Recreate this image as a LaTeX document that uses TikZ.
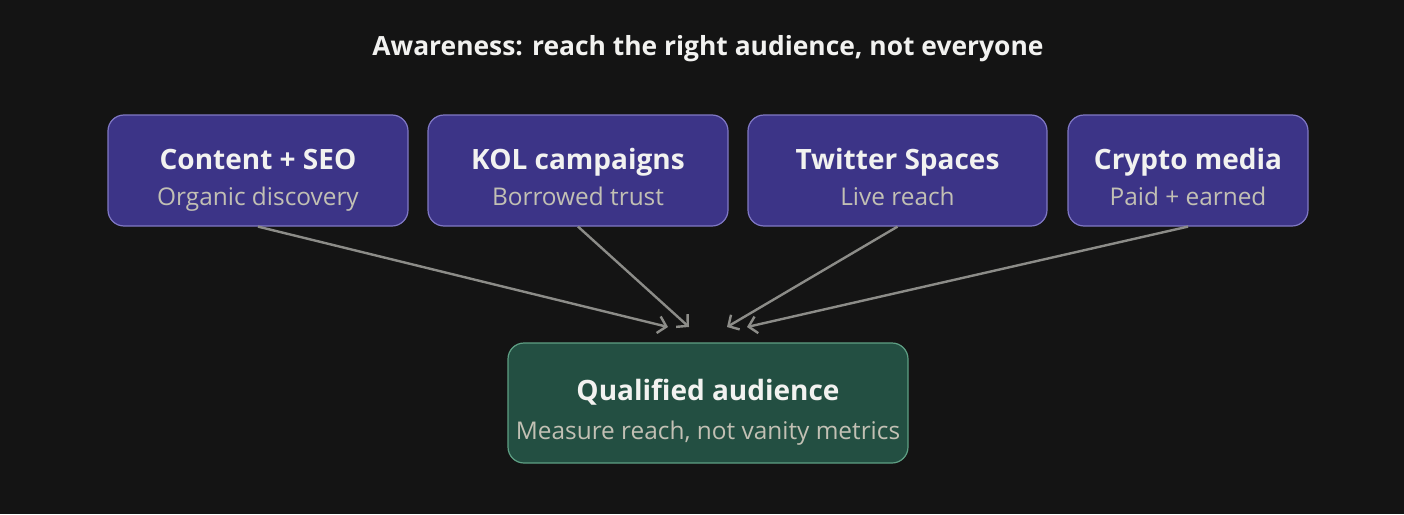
\documentclass[tikz,border=0pt]{standalone}
\usepackage{fontspec}
\setmainfont{Open Sans}
\usetikzlibrary{arrows.meta,calc}
\definecolor{bg}{HTML}{141414}
\definecolor{pfill}{HTML}{3C3487}
\definecolor{pline}{HTML}{8078C4}
\definecolor{gfill}{HTML}{234F42}
\definecolor{gline}{HTML}{5E9F84}
\definecolor{titlec}{HTML}{F2F2F0}
\definecolor{subc}{HTML}{C2C0B4}
\definecolor{arrc}{HTML}{8C8C88}
\begin{document}
\begin{tikzpicture}[x=1pt,y=-1pt,
  card/.style={draw=pline,fill=pfill,line width=1.2pt,rounded corners=16pt,inner sep=0pt,align=center},
  gcard/.style={draw=gline,fill=gfill,line width=1.2pt,rounded corners=16pt,inner sep=0pt,align=center},
  flow/.style={draw=arrc,line width=2.4pt,-{Straight Barb[length=8pt,width=17pt,line width=2.4pt]}},
  ttl/.style={font=\fontsize{28}{32}\selectfont\bfseries,text=titlec,anchor=base,inner sep=0pt},
  sub/.style={font=\fontsize{24.4}{28}\selectfont,text=subc,anchor=base,inner sep=0pt}]
\fill[bg] (0,0) rectangle (1404,514);
\useasboundingbox (0,0) rectangle (1404,514);
\node[ttl,font=\fontsize{26.4}{30}\selectfont\bfseries] (head) at (708,55) {Awareness: reach the right audience, not everyone};
\node[card,minimum width=300pt,minimum height=111pt] (a) at (258,170.5) {};
\node[card,minimum width=300pt,minimum height=111pt] (b) at (578,170.5) {};
\node[card,minimum width=299pt,minimum height=111pt] (c) at (897.5,170.5) {};
\node[card,minimum width=240pt,minimum height=111pt] (d) at (1188,170.5) {};
\node[gcard,minimum width=400pt,minimum height=120pt] (e) at (708,403) {};
\node[ttl] (at) at (258,169) {Content + SEO};
\node[sub] (as) at (258,205) {Organic discovery};
\node[ttl] (bt) at (578,169) {KOL campaigns};
\node[sub] (bs) at (578,205) {Borrowed trust};
\node[ttl] (ct) at (897.5,169) {Twitter Spaces};
\node[sub] (cs) at (897.5,205) {Live reach};
\node[ttl] (dt) at (1188,169) {Crypto media};
\node[sub] (ds) at (1188,205) {Paid + earned};
\node[ttl] (et) at (708,400) {Qualified audience};
\node[sub] (es) at (708,439) {Measure reach, not vanity metrics};
\coordinate (e1) at (668,327);
\coordinate (e2) at (689,327);
\coordinate (e3) at (727,327);
\coordinate (e4) at (747,327);
\draw[flow] (a.south) -- (e1);
\draw[flow] (b.south) -- (e2);
\draw[flow] (c.south) -- (e3);
\draw[flow] (d.south) -- (e4);
\end{tikzpicture}
\end{document}
